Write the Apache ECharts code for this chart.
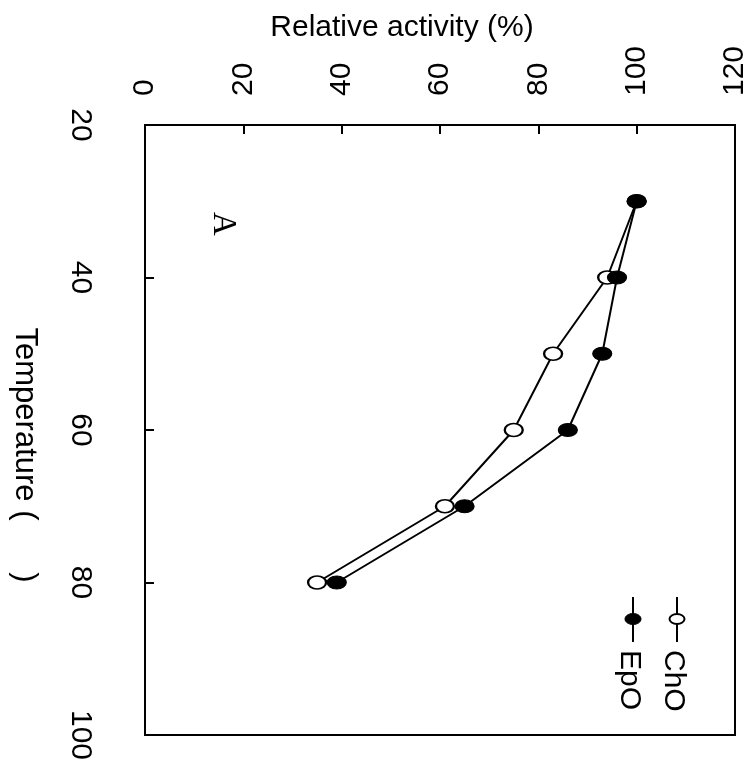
<!DOCTYPE html>
<html>
<head>
<meta charset="utf-8">
<script src="https://cdn.jsdelivr.net/npm/echarts@6/dist/echarts.min.js"></script>
<style>html,body{margin:0;padding:0;background:#fff;}#c{width:752px;height:765px;}</style>
</head>
<body>
<div id="c"></div>
<script>
// Data
var temperature = [30, 40, 50, 60, 70, 80];
var choActivity = [100, 94, 83, 75, 61, 35];
var epoActivity = [100, 96, 93, 86, 65, 39];
var seriesNames = ['ChO', 'EpO'];
var xTitle = 'Relative activity (%)';
var yTitle = 'Temperature (      )';
var panelLabel = 'A';

var FONT = "'Liberation Sans', Arial, sans-serif";
var ellipse = 'path://M1,0 C1,0.5523 0.5523,1 0,1 C-0.5523,1 -1,0.5523 -1,0 C-1,-0.5523 -0.5523,-1 0,-1 C0.5523,-1 1,-0.5523 1,0 Z';

function pairs(vals) { return vals.map(function (v, i) { return [v, temperature[i]]; }); }

var chart = echarts.init(document.getElementById('c'), null, {renderer: 'canvas'});
chart.setOption({
  animation: false,
  backgroundColor: '#fff',
  grid: {left: 145, top: 125, width: 590, height: 610, show: true, borderColor: '#000', borderWidth: 2, backgroundColor: 'transparent'},
  xAxis: {
    type: 'value', position: 'top', min: 0, max: 120, interval: 20,
    axisLine: {show: true, lineStyle: {color: '#000', width: 2}},
    axisTick: {show: true, inside: true, length: 9, lineStyle: {color: '#000', width: 2}},
    axisLabel: {rotate: -90, margin: 29, padding: [8, 0, 0, 0], color: '#000', fontSize: 30, fontFamily: FONT},
    splitLine: {show: false}
  },
  yAxis: {
    type: 'value', inverse: true, min: 20, max: 100, interval: 20,
    axisLine: {show: true, lineStyle: {color: '#000', width: 2}},
    axisTick: {show: true, inside: true, length: 9, lineStyle: {color: '#000', width: 2}},
    axisLabel: {rotate: -90, margin: 50, color: '#000', fontSize: 30, fontFamily: FONT},
    splitLine: {show: false}
  },
  series: [
    {name: seriesNames[0], type: 'line', data: pairs(choActivity), symbol: ellipse, symbolSize: [18, 13],
     lineStyle: {color: '#000', width: 2}, itemStyle: {color: '#fff', borderColor: '#000', borderWidth: 2}, silent: true, z: 2},
    {name: seriesNames[1], type: 'line', data: pairs(epoActivity), symbol: ellipse, symbolSize: [19, 13],
     lineStyle: {color: '#000', width: 2}, itemStyle: {color: '#000', borderColor: '#000', borderWidth: 1}, silent: true, z: 3}
  ],
  graphic: [
    {type: 'text', x: 402, y: 28, style: {text: xTitle, fill: '#000', font: '30px ' + FONT, textAlign: 'center', textVerticalAlign: 'middle'}},
    {type: 'text', x: 25, y: 455, rotation: -Math.PI / 2, style: {text: yTitle, fill: '#000', font: '31px ' + FONT, textAlign: 'center', textVerticalAlign: 'middle'}},
    {type: 'text', x: 223, y: 224, rotation: -Math.PI / 2, style: {text: panelLabel, fill: '#000', font: '33px "Liberation Serif", serif', textAlign: 'center', textVerticalAlign: 'middle'}},
    // legend ChO
    {type: 'line', shape: {x1: 677, y1: 597, x2: 677, y2: 642}, style: {stroke: '#000', lineWidth: 2}},
    {type: 'ellipse', shape: {cx: 677, cy: 619, rx: 7.5, ry: 5}, style: {fill: '#fff', stroke: '#000', lineWidth: 2}},
    {type: 'text', x: 673, y: 650, rotation: -Math.PI / 2, style: {text: seriesNames[0], fill: '#000', font: '30px ' + FONT, textAlign: 'left', textVerticalAlign: 'middle'}},
    // legend EpO
    {type: 'line', shape: {x1: 633, y1: 597, x2: 633, y2: 642}, style: {stroke: '#000', lineWidth: 2}},
    {type: 'ellipse', shape: {cx: 633, cy: 619, rx: 8, ry: 5.5}, style: {fill: '#000', stroke: '#000', lineWidth: 1}},
    {type: 'text', x: 629, y: 650, rotation: -Math.PI / 2, style: {text: seriesNames[1], fill: '#000', font: '30px ' + FONT, textAlign: 'left', textVerticalAlign: 'middle'}}
  ]
});
</script>
</body>
</html>
